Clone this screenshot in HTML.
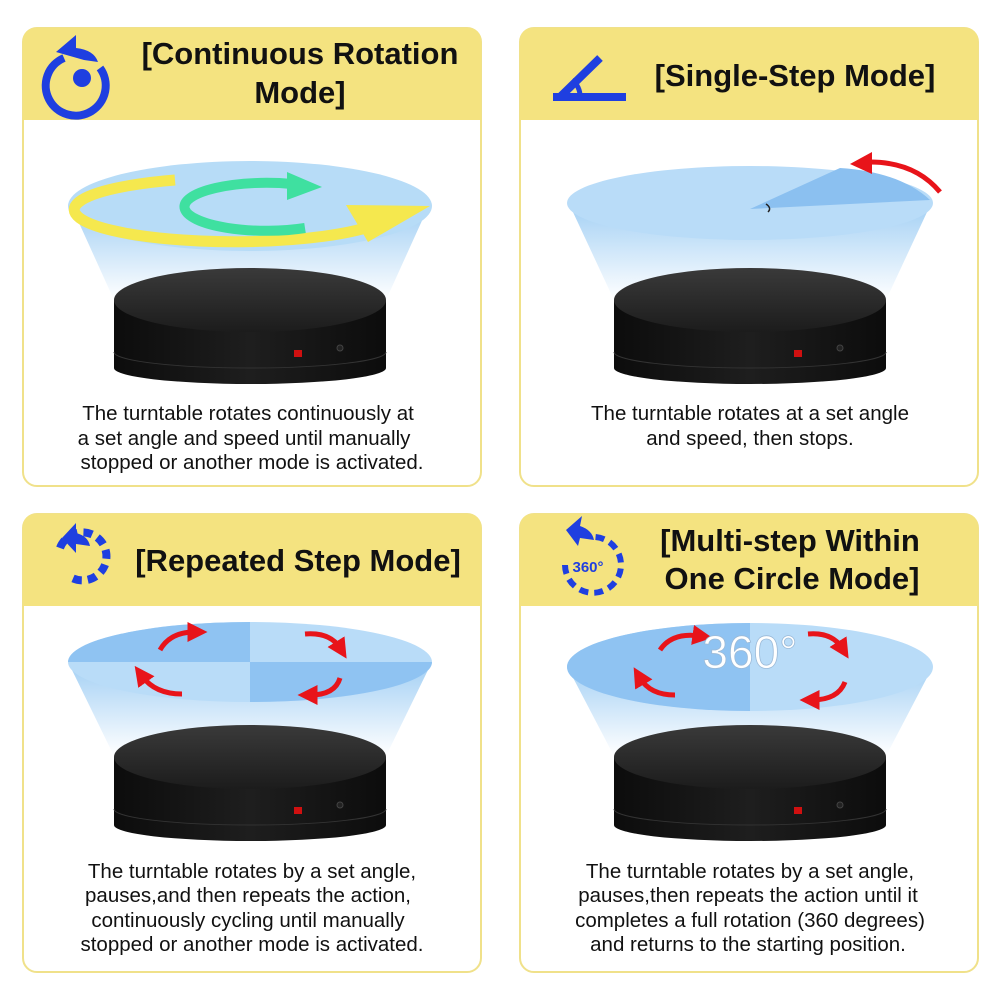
<!DOCTYPE html>
<html><head><meta charset="utf-8"><style>
html,body{margin:0;padding:0;background:#fff;}
svg{display:block}
text{font-family:"Liberation Sans","DejaVu Sans",sans-serif;}
</style></head><body>
<svg width="1000" height="1000" viewBox="0 0 1000 1000" xmlns="http://www.w3.org/2000/svg">
<defs>
<linearGradient id="cone" x1="0" y1="0" x2="0" y2="1">
<stop offset="0" stop-color="#a9d3f5"/><stop offset="1" stop-color="#ffffff"/></linearGradient>
<linearGradient id="top" x1="0" y1="0" x2="0" y2="1">
<stop offset="0" stop-color="#3a3a3a"/><stop offset="1" stop-color="#1c1c1c"/></linearGradient>
<linearGradient id="side" x1="0" y1="0" x2="1" y2="0">
<stop offset="0" stop-color="#0c0c0c"/><stop offset="0.5" stop-color="#1e1e1e"/><stop offset="1" stop-color="#0c0c0c"/></linearGradient>
<marker id="ah" markerWidth="4" markerHeight="4" refX="1.5" refY="2" orient="auto"><path d="M0,0 L4,2 L0,4 z" fill="#e8141a"/></marker>
<symbol id="tt" overflow="visible">
<path d="M-136,0 L-136,68 A136,16 0 0 0 136,68 L136,0 Z" fill="url(#side)"/>
<path d="M-136,52 A136,16 0 0 0 136,52" fill="none" stroke="#333" stroke-width="1"/>
<ellipse cx="0" cy="0" rx="136" ry="32" fill="url(#top)"/>
<rect x="44" y="50" width="8" height="7" fill="#d01010"/>
<circle cx="90" cy="48" r="3" fill="#222" stroke="#444"/>
</symbol>
</defs>

<g fill="#fff" stroke="#f0e18a" stroke-width="2">
<rect x="23" y="28" width="458" height="458" rx="14"/>
<rect x="520" y="28" width="458" height="458" rx="14"/>
<rect x="23" y="514" width="458" height="458" rx="14"/>
<rect x="520" y="514" width="458" height="458" rx="14"/>
</g>
<g fill="#f4e380">
<path d="M23,120 L23,42 Q23,28 37,28 L467,28 Q481,28 481,42 L481,120 Z"/>
<path d="M520,120 L520,42 Q520,28 534,28 L964,28 Q978,28 978,42 L978,120 Z"/>
<path d="M23,606 L23,528 Q23,514 37,514 L467,514 Q481,514 481,528 L481,606 Z"/>
<path d="M520,606 L520,528 Q520,514 534,514 L964,514 Q978,514 978,528 L978,606 Z"/>
</g>

<g font-weight="bold" font-size="31" fill="#111" text-anchor="middle">
<text x="300" y="64">[Continuous Rotation</text>
<text x="300" y="103">Mode]</text>
<text x="795" y="86">[Single-Step Mode]</text>
<text x="298" y="571">[Repeated Step Mode]</text>
<text x="790" y="551">[Multi-step Within</text>
<text x="792" y="589">One Circle Mode]</text>
</g>

<g fill="none" stroke="#1f3fe0" stroke-width="8">
<path d="M64,58 A30,30 0 1 0 100,68"/>
<path d="M553,97 L626,97 M560,97 L600,58"/>
<path d="M580,97 A20,20 0 0 0 572,80" stroke-width="5"/>
<path d="M60,548 A24,24 0 1 1 72,578" stroke-dasharray="9 6"/>
<path d="M565,565 A28,28 0 1 0 590,537" stroke-dasharray="9 6" stroke-width="6"/>
</g>
<g fill="#1f3fe0">
<circle cx="82" cy="78" r="9"/>
<path d="M56,52 L76,35 L76,48 Q94,50 98,62 L84,60 Z"/>
<path d="M62,538 L76,523 L76,533 Q88,536 90,546 L76,544 L76,553 Z"/>
<path d="M566,530 L582,516 L580,526 Q592,530 594,540 L580,538 L578,546 Z"/>
<text x="588" y="572" font-size="15" font-weight="bold" text-anchor="middle">360°</text>
</g>

<!-- panel 1 -->
<polygon points="75,214 425,214 386,300 114,300" fill="url(#cone)"/>
<ellipse cx="250" cy="206" rx="182" ry="45" fill="#b7dcf7"/>
<path d="M175,180 A160,32 0 1 0 372,226" fill="none" stroke="#f5e84e" stroke-width="11"/>
<polygon points="346,205 430,206 368,242" fill="#f5e84e"/>
<path d="M305,228 A82,24 0 1 1 292,184" fill="none" stroke="#3fe0a0" stroke-width="10"/>
<polygon points="287,172 322,187 287,200" fill="#3fe0a0"/>
<use href="#tt" x="250" y="300"/>

<!-- panel 2 -->
<polygon points="572,210 928,210 886,300 614,300" fill="url(#cone)"/>
<ellipse cx="750" cy="203" rx="183" ry="37" fill="#b9dcf8"/>
<path d="M750,209 L840,168 Q900,172 930,200 Z" fill="#8bc0f0"/>
<path d="M766,204 Q772,208 768,212" fill="none" stroke="#222" stroke-width="1.5"/>
<path d="M870,162 Q915,162 940,192" fill="none" stroke="#e8141a" stroke-width="5"/>
<polygon points="850,164 872,152 872,174" fill="#e8141a"/>
<use href="#tt" x="750" y="300"/>

<!-- panel 3 -->
<polygon points="72,670 428,670 386,756 114,756" fill="url(#cone)"/>
<ellipse cx="250" cy="662" rx="182" ry="40" fill="#b9dcf8"/>
<path d="M250,622 L250,662 L68,662 A182,40 0 0 1 250,622 Z" fill="#8fc3f2"/>
<path d="M250,702 L250,662 L432,662 A182,40 0 0 1 250,702 Z" fill="#8fc3f2"/>
<g fill="none" stroke="#e8141a" stroke-width="5" marker-end="url(#ah)">
<path d="M160,650 Q170,632 195,632"/>
<path d="M305,634 Q330,632 340,648"/>
<path d="M340,678 Q335,695 310,695"/>
<path d="M182,694 Q155,694 142,676"/>
</g>
<use href="#tt" x="250" y="757"/>

<!-- panel 4 -->
<polygon points="569,670 931,670 886,756 614,756" fill="url(#cone)"/>
<ellipse cx="750" cy="667" rx="183" ry="44" fill="#b9dcf8"/>
<path d="M750,623 L750,711 A183,44 0 0 1 567,667 A183,44 0 0 1 750,623 Z" fill="#8fc3f2"/>
<g fill="none" stroke="#e8141a" stroke-width="5" marker-end="url(#ah)">
<path d="M660,650 Q672,632 700,636"/>
<path d="M808,634 Q832,632 842,648"/>
<path d="M845,682 Q838,700 812,700"/>
<path d="M675,695 Q650,695 640,678"/>
</g>
<text x="750" y="668" font-size="46" fill="#fff" stroke="#9bbad8" stroke-width="0.8" text-anchor="middle">360°</text>
<use href="#tt" x="750" y="757"/>

<g font-size="20.5" fill="#111" text-anchor="middle">
<text x="248" y="420">The turntable rotates continuously at</text>
<text x="244" y="445">a set angle and speed until manually</text>
<text x="252" y="469">stopped or another mode is activated.</text>
<text x="750" y="420">The turntable rotates at a set angle</text>
<text x="750" y="445">and speed, then stops.</text>
<text x="252" y="878">The turntable rotates by a set angle,</text>
<text x="248" y="902">pauses,and then repeats the action,</text>
<text x="248" y="927">continuously cycling until manually</text>
<text x="252" y="951">stopped or another mode is activated.</text>
<text x="750" y="878">The turntable rotates by a set angle,</text>
<text x="748" y="902">pauses,then repeats the action until it</text>
<text x="750" y="927">completes a full rotation (360 degrees)</text>
<text x="748" y="951">and returns to the starting position.</text>
</g>
</svg>
</body></html>
